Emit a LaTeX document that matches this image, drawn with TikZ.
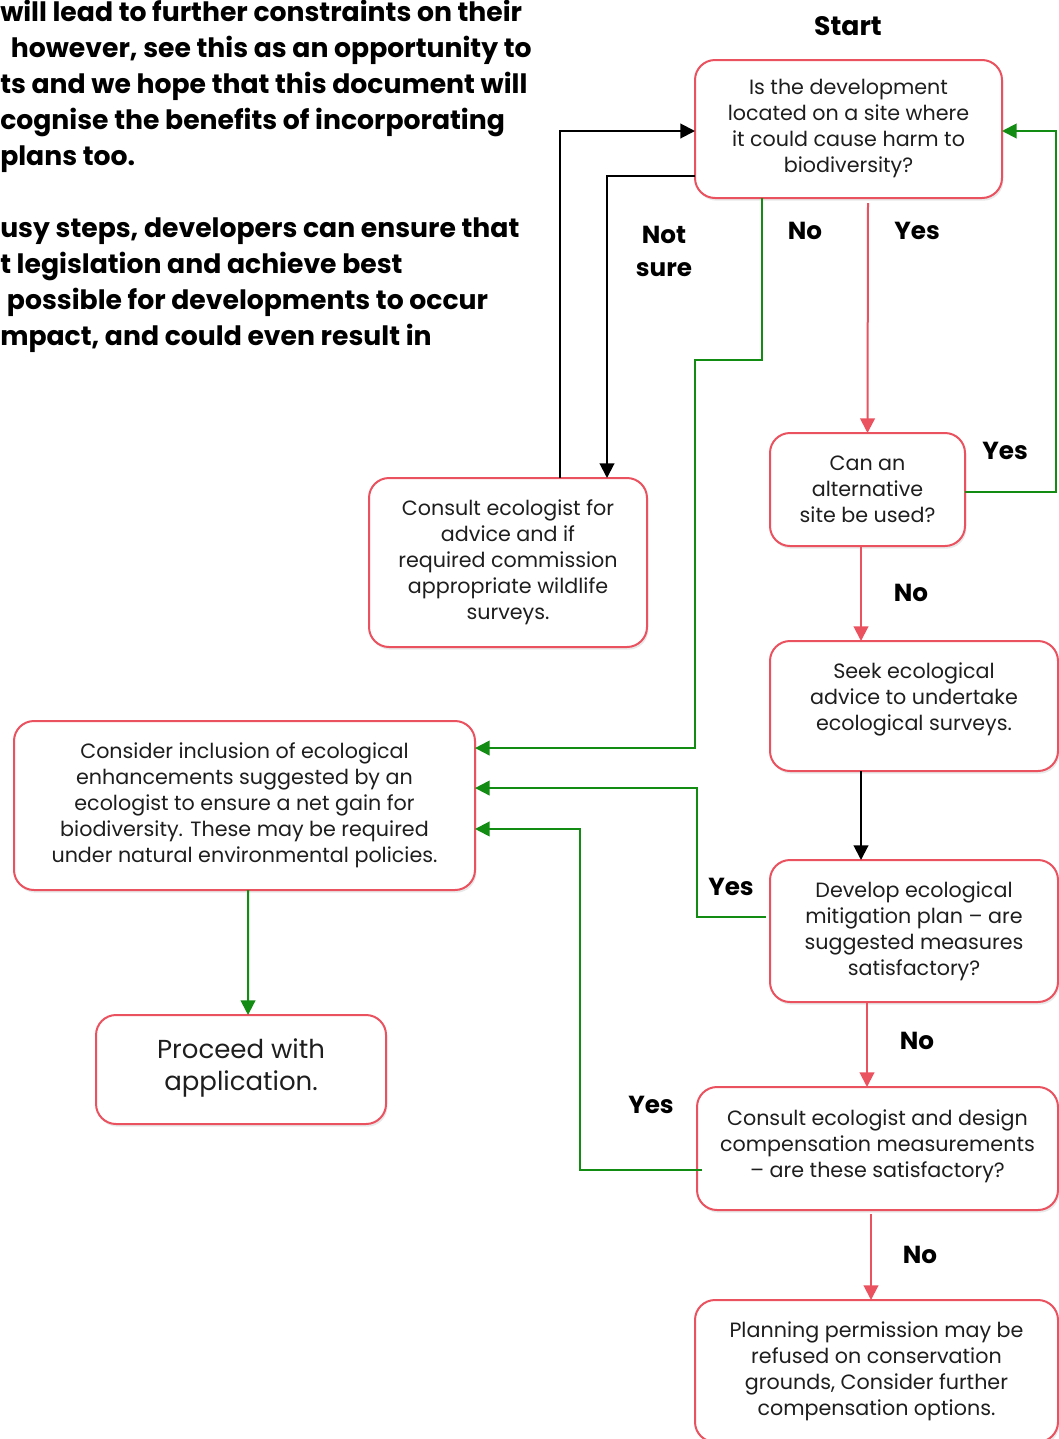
\documentclass[tikz,border=0pt]{standalone}
\usepackage{fontspec}
\setmainfont{Poppins}
\usetikzlibrary{arrows.meta,positioning,shadows}
\definecolor{boxred}{RGB}{235,82,96}
\definecolor{flowgreen}{RGB}{18,140,18}
\definecolor{inkgray}{RGB}{30,30,30}
\tikzset{
    stepbox/.style={draw=boxred, line width=1.5pt, rounded corners=15pt, fill=white, align=center,
        text=inkgray, font=\fontsize{15.5}{19.5}\selectfont, inner sep=0pt, outer sep=0pt,
        drop shadow={opacity=0.18, shadow xshift=1pt, shadow yshift=-2pt}},
    greenflow/.style={-{Triangle[length=11pt, width=11pt]}, line width=1.5pt, flowgreen},
    redflow/.style={-{Triangle[length=11pt, width=11pt]}, line width=1.5pt, boxred},
    blackflow/.style={-{Triangle[length=11pt, width=11pt]}, line width=1.5pt, black},
    lbl/.style={font=\fontsize{18.5}{24.75}\selectfont\bfseries, align=center}
}

\begin{document}
\begin{tikzpicture}[x=0.75pt, y=-0.75pt]
    \useasboundingbox (0,0) rectangle (1058,1439);

    % text of the page beside the chart
    \node[anchor=north west, align=left, inner sep=0pt, font=\fontsize{20}{27}\selectfont\bfseries] (para) at (0,0) {%
        will lead to further constraints on their\\
        \hspace*{8pt}however, see this as an opportunity to\\
        ts and we hope that this document will\\
        cognise the benefits of incorporating\\
        plans too.\\[27pt]
        usy steps, developers can ensure that\\
        t legislation and achieve best\\
        \hspace*{5pt}possible for developments to occur\\
        mpact, and could even result in};

    \node[lbl, font=\fontsize{20}{26}\selectfont\bfseries] (title) at (848,26) {Start};

    % boxes
    \node[stepbox, minimum width=230.25pt, minimum height=103.5pt] (start) at (848.5,129)
        {Is the development\\located on a site where\\it could cause harm to\\biodiversity?};
    \node[stepbox, minimum width=146.25pt, minimum height=84.75pt,
        below right=176.25pt and 56.25pt of start.south west] (alt)
        {Can an\\alternative\\site be used?};
    \node[stepbox, minimum width=216pt, minimum height=97.5pt,
        below right=71.25pt and 0pt of alt.south west] (seek)
        {Seek ecological\\advice to undertake\\ecological surveys.\\[-6pt]};
    \node[stepbox, minimum width=216pt, minimum height=106.5pt,
        below right=66.75pt and 0pt of seek.south west] (develop)
        {Develop ecological\\mitigation plan -- are\\suggested measures\\satisfactory?};
    \node[stepbox, minimum width=270.75pt, minimum height=92.25pt,
        below right=63.75pt and -54.75pt of develop.south west] (comp)
        {Consult ecologist and design\\compensation measurements\\-- are these satisfactory?\\[-12pt]};
    \node[stepbox, minimum width=272.25pt, minimum height=106.5pt,
        below right=67.5pt and -1.5pt of comp.south west] (refuse)
        {Planning permission may be\\refused on conservation\\grounds, Consider further\\compensation options.};
    \node[stepbox, minimum width=208.5pt, minimum height=126.75pt,
        below left=210pt and 36pt of start.south west] (consult)
        {Consult ecologist for\\advice and if\\required commission\\appropriate wildlife\\surveys.};
    \node[stepbox, minimum width=345.75pt, minimum height=126.75pt,
        below left=55.5pt and 129pt of consult.south east] (enhance)
        {Consider inclusion of ecological\\enhancements suggested by an\\ecologist to ensure a net gain for\\biodiversity. These may be required\\under natural environmental policies.};
    \node[stepbox, minimum width=217.5pt, minimum height=81.75pt, font=\fontsize{19.5}{24}\selectfont,
        below=93.75pt of enhance, xshift=-2.6pt] (proceed)
        {Proceed with\\application.\\[-16pt]};

    % where the green lines come in
    \coordinate (noin) at ([yshift=43.1pt]enhance.east);
    \coordinate (devin) at ([yshift=13.1pt]enhance.east);
    \coordinate (compin) at ([yshift=-17.6pt]enhance.east);

    % connectors
    \draw[blackflow] ([xshift=143.25pt]consult.north west) |- ([yshift=-1.5pt]start.west);
    \draw[blackflow] ([yshift=-35.25pt]start.west) -| ([xshift=178.5pt]consult.north west);
    \draw[greenflow] ([xshift=50.25pt]start.south west) -- ++(0,-121.5pt) -| (start.west |- noin) -- (noin);
    \draw[redflow] ([xshift=129.75pt,yshift=-3.75pt]start.south west) -- (alt.north);
    \draw[greenflow] ([yshift=-1.5pt]alt.east) -- ++(68.25pt,0) |- ([yshift=-1.5pt]start.east);
    \draw[redflow] ([xshift=68.25pt]alt.south west) -- ([xshift=68.25pt]seek.north west);
    \draw[blackflow] ([xshift=68.25pt]seek.south west) -- ([xshift=68.25pt]develop.north west);
    \draw[greenflow] ([xshift=-3pt,yshift=10.5pt]develop.west) -- ++(-51.75pt,0) |- (devin);
    \draw[redflow] ([xshift=72.75pt]develop.south west) -- ([xshift=127.5pt]comp.north west);
    \draw[greenflow] ([xshift=3.75pt,yshift=-16.1pt]comp.west) -- ++(-91.5pt,0) |- (compin);
    \draw[redflow] ([xshift=130.5pt,yshift=-3pt]comp.south west) -- ([xshift=132pt]refuse.north west);
    \draw[greenflow] ([xshift=175.5pt]enhance.south west) -- ([xshift=114pt]proceed.north west);

    % labels on the branches
    \node[lbl] (notsure) at (664,251) {Not\\sure};
    \node[lbl] (startno) at (805,231) {No};
    \node[lbl] (startyes) at (917,231) {Yes};
    \node[lbl] (altyes) at (1005,451) {Yes};
    \node[lbl] (altno) at (911,593) {No};
    \node[lbl] (devyes) at (731,887) {Yes};
    \node[lbl] (devno) at (917,1041) {No};
    \node[lbl] (compyes) at (651,1105) {Yes};
    \node[lbl] (compno) at (920,1255) {No};
\end{tikzpicture}
\end{document}
